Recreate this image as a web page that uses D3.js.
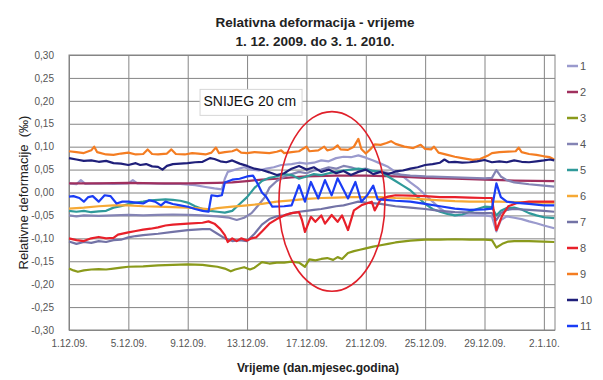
<!DOCTYPE html>
<html>
<head>
<meta charset="utf-8">
<script src="https://cdn.jsdelivr.net/npm/d3@7"></script>
<style>
  body { margin: 0; background: #fff; }
  svg { display: block; }
  text { font-family: "Liberation Sans", Arial, sans-serif; }
</style>
</head>
<body>
<svg id="chart" width="603" height="380"></svg>
<script>
// ---- data -------------------------------------------------------------
// Measurement period starts 1.12.2009; positions along time are given in days from that date.
const startDate = new Date(2009, 11, 1);
const lastDay = 32.75;

const tickDays = [0, 4, 8, 12, 16, 20, 24, 28, 32];
const tickLabels = ["1.12.09.", "5.12.09.", "9.12.09.", "13.12.09.", "17.12.09.",
                    "21.12.09.", "25.12.09.", "29.12.09.", "2.1.10."];
const yTicks = [-0.30, -0.25, -0.20, -0.15, -0.10, -0.05, 0.00, 0.05, 0.10, 0.15, 0.20, 0.25, 0.30];

const seriesNames = ["1", "2", "3", "4", "5", "6", "7", "8", "9", "10", "11"];
const seriesColors = ["#9a9acd", "#a0305e", "#8a9a1b", "#8484b4", "#2f9a9a", "#f6a935",
                      "#7373a6", "#e8202a", "#f47d22", "#1f1f7a", "#1a3cf5"];

// [day, relative deformation in ‰]
const s1 = [[0,0.02],[0.5,0.018],[0.8,0.027],[1.1,0.019],[2,0.02],[3,0.019],[4,0.02],[4.3,0.027],[4.6,0.02],
  [5.5,0.02],[6.5,0.019],[7.5,0.019],[8.5,0.016],[9.2,0.012],[9.8,0.009],[10.3,0.007],[10.5,0.03],[10.7,0.045],
  [11.2,0.05],[11.8,0.055],[12.3,0.05],[12.8,0.048],[13.3,0.052],[13.8,0.055],[14.3,0.06],[15,0.062],[15.5,0.065],
  [16,0.063],[16.5,0.065],[17,0.07],[17.5,0.068],[18,0.075],[18.5,0.078],[19,0.077],[19.5,0.081],[20,0.076],
  [20.5,0.07],[21,0.063],[21.5,0.056],[22,0.045],[22.5,0.035],[23,0.022],[23.5,0.01],[24,-0.005],[24.5,-0.02],
  [25,-0.035],[25.5,-0.045],[26,-0.05],[27,-0.05],[28,-0.05],[28.5,-0.052],[28.8,-0.085],[29.1,-0.06],
  [29.5,-0.052],[30,-0.055],[30.5,-0.058],[31,-0.063],[31.5,-0.067],[32,-0.072],[32.7,-0.078]];

const s2 = [[0,0.02],[2,0.02],[4,0.021],[6,0.02],[8,0.02],[10,0.021],[11,0.022],[12,0.025],[13,0.028],[14,0.03],
  [15,0.033],[16,0.035],[18,0.037],[20,0.037],[22,0.035],[24,0.032],[26,0.03],[28,0.028],[30,0.026],[32.7,0.025]];

const s3 = [[0,-0.166],[0.3,-0.17],[0.6,-0.173],[1,-0.17],[1.5,-0.168],[2,-0.167],[2.5,-0.168],[3,-0.166],
  [3.5,-0.164],[4,-0.162],[5,-0.161],[6,-0.159],[7,-0.158],[8,-0.157],[9,-0.158],[9.5,-0.16],[10,-0.162],
  [10.5,-0.166],[10.9,-0.172],[11.2,-0.168],[11.8,-0.163],[12.2,-0.168],[12.5,-0.164],[13,-0.152],[13.5,-0.155],
  [14,-0.153],[14.5,-0.153],[15,-0.151],[15.5,-0.153],[15.9,-0.162],[16.2,-0.146],[16.6,-0.148],[17,-0.145],
  [17.4,-0.143],[17.8,-0.147],[18.1,-0.141],[18.4,-0.145],[18.8,-0.132],[19.2,-0.128],[19.6,-0.125],[20,-0.122],
  [20.5,-0.118],[21,-0.115],[21.5,-0.112],[22,-0.109],[23,-0.105],[24,-0.103],[25,-0.103],[26,-0.102],
  [27,-0.103],[28,-0.103],[28.5,-0.104],[28.8,-0.12],[29.2,-0.112],[29.6,-0.107],[30,-0.106],[31,-0.106],
  [32,-0.107],[32.7,-0.108]];

const s4 = [[0,-0.05],[0.5,-0.052],[1,-0.05],[2,-0.051],[3,-0.05],[4,-0.049],[5,-0.05],[6,-0.049],[7,-0.048],
  [8,-0.049],[9,-0.05],[10,-0.052],[10.8,-0.055],[11.3,-0.06],[11.8,-0.055],[12.3,-0.045],[12.7,-0.03],
  [13.2,-0.01],[13.5,0.01],[14,0.025],[14.5,0.035],[15,0.04],[15.5,0.045],[16,0.042],[16.5,0.048],[17,0.05],
  [17.5,0.055],[18,0.052],[18.5,0.058],[19,0.055],[19.5,0.05],[20,0.052],[20.5,0.047],[21,0.045],[21.5,0.043],
  [22,0.04],[23,0.037],[24,0.035],[25,0.034],[26,0.033],[27,0.032],[28,0.031],[28.5,0.032],[28.8,0.049],
  [29.1,0.035],[29.5,0.027],[30,0.022],[31,0.018],[32,0.015],[32.7,0.013]];

const s5 = [[0,-0.04],[0.5,-0.042],[1,-0.04],[1.5,-0.043],[2,-0.041],[2.5,-0.04],[3,-0.033],[3.5,-0.03],
  [4,-0.025],[4.5,-0.022],[5,-0.02],[5.5,-0.017],[6,-0.016],[6.5,-0.015],[7,-0.016],[7.5,-0.018],[8,-0.022],
  [8.5,-0.03],[9,-0.036],[9.5,-0.04],[10,-0.042],[10.5,-0.044],[11,-0.04],[11.5,-0.025],[12,-0.01],[12.5,0.01],
  [13,0.025],[13.5,0.032],[14,0.035],[14.5,0.04],[15,0.038],[15.5,0.03],[16,0.035],[16.5,0.04],[17,0.038],
  [17.5,0.042],[18,0.045],[18.5,0.048],[19,0.05],[19.5,0.052],[20,0.05],[20.5,0.047],[21,0.045],[21.5,0.035],
  [22,0.025],[22.5,0.015],[23,0.005],[23.5,-0.01],[24,-0.025],[24.5,-0.036],[25,-0.042],[25.5,-0.047],
  [26,-0.05],[26.5,-0.048],[27,-0.042],[27.5,-0.036],[28,-0.031],[28.5,-0.032],[28.8,-0.05],[29.1,-0.04],
  [29.5,-0.034],[30,-0.033],[30.5,-0.037],[31,-0.045],[31.5,-0.05],[32,-0.054],[32.7,-0.056]];

const s6 = [[0,-0.035],[1,-0.033],[2,-0.03],[3,-0.028],[4,-0.028],[5,-0.03],[6,-0.031],[7,-0.032],[8,-0.033],
  [9,-0.035],[9.5,-0.037],[10,-0.034],[11,-0.031],[12,-0.028],[13,-0.025],[14,-0.02],[15,-0.017],[16,-0.014],
  [17,-0.012],[18,-0.011],[19,-0.01],[20,-0.01],[21,-0.01],[22,-0.012],[23,-0.013],[24,-0.015],[25,-0.017],
  [26,-0.019],[27,-0.02],[28,-0.02],[29,-0.02],[30,-0.021],[31,-0.022],[32,-0.022],[32.7,-0.022]];

const s7 = [[0,-0.107],[0.5,-0.112],[1,-0.108],[1.5,-0.11],[2,-0.106],[2.5,-0.108],[3,-0.104],[3.5,-0.103],
  [4,-0.098],[4.5,-0.095],[5,-0.093],[6,-0.09],[7,-0.086],[8,-0.082],[9,-0.08],[9.5,-0.08],[10,-0.09],
  [10.5,-0.1],[11,-0.106],[11.5,-0.104],[12,-0.106],[12.5,-0.09],[13,-0.07],[13.5,-0.058],[14,-0.052],
  [14.5,-0.05],[15,-0.045],[15.5,-0.042],[16,-0.04],[16.5,-0.038],[17,-0.036],[17.5,-0.033],[18,-0.03],
  [18.5,-0.028],[19,-0.024],[19.5,-0.02],[20,-0.022],[21,-0.025],[22,-0.03],[23,-0.033],[24,-0.036],[25,-0.04],
  [26,-0.043],[27,-0.044],[28,-0.045],[28.5,-0.045],[28.8,-0.06],[29.1,-0.045],[29.5,-0.038],[30,-0.036],
  [31,-0.038],[32,-0.04],[32.7,-0.042]];

const s8 = [[0,-0.1],[0.5,-0.104],[1,-0.106],[1.5,-0.1],[2,-0.097],[2.5,-0.1],[3,-0.099],[3.3,-0.092],[4,-0.087],
  [4.5,-0.084],[5,-0.081],[5.5,-0.079],[6,-0.076],[6.5,-0.072],[7,-0.07],[8,-0.068],[9,-0.066],[9.4,-0.063],
  [9.8,-0.068],[10.2,-0.08],[10.5,-0.093],[10.7,-0.108],[11,-0.1],[11.3,-0.106],[11.6,-0.1],[12,-0.105],
  [12.3,-0.1],[12.6,-0.098],[13,-0.085],[13.5,-0.068],[14,-0.058],[14.5,-0.05],[15,-0.045],[15.5,-0.043],
  [15.7,-0.06],[15.9,-0.086],[16.3,-0.053],[16.6,-0.064],[17,-0.05],[17.25,-0.068],[17.7,-0.049],[18.1,-0.064],
  [18.4,-0.05],[18.8,-0.082],[19.2,-0.039],[19.7,-0.028],[20.4,-0.02],[20.6,-0.039],[21,-0.015],[21.5,-0.009],
  [22,-0.006],[23,-0.007],[24,-0.008],[25,-0.01],[26,-0.01],[27,-0.011],[28,-0.012],[28.5,-0.012],
  [28.8,-0.082],[29.2,-0.05],[29.6,-0.03],[30.2,-0.023],[31,-0.02],[32,-0.02],[32.7,-0.02]];

const s9 = [[0,0.09],[0.5,0.088],[1,0.086],[1.5,0.092],[1.7,0.1],[1.9,0.088],[2.5,0.083],[3,0.082],[3.5,0.085],
  [4,0.087],[4.5,0.083],[5,0.084],[5.3,0.094],[5.6,0.084],[6,0.083],[6.6,0.085],[6.9,0.094],[7.2,0.084],
  [7.8,0.083],[8.3,0.086],[8.7,0.085],[9.2,0.083],[9.6,0.087],[9.9,0.098],[10.1,0.086],[10.5,0.088],[11,0.09],
  [11.3,0.094],[11.6,0.087],[12,0.086],[12.5,0.088],[13,0.087],[13.5,0.086],[14,0.089],[14.3,0.092],
  [14.5,0.086],[15,0.088],[15.5,0.09],[16,0.1],[16.2,0.09],[16.8,0.092],[17.2,0.1],[17.4,0.092],[17.8,0.095],
  [18.1,0.103],[18.3,0.094],[18.8,0.093],[19.2,0.1],[19.5,0.117],[19.7,0.095],[20,0.085],[20.3,0.094],
  [20.6,0.105],[21,0.104],[21.4,0.108],[21.7,0.112],[22,0.106],[22.6,0.1],[23.2,0.097],[23.7,0.104],[24,0.095],
  [24.4,0.094],[24.6,0.1],[24.9,0.087],[25.5,0.082],[26,0.078],[26.5,0.075],[27.2,0.071],[27.7,0.073],
  [28.2,0.08],[28.5,0.086],[29,0.088],[29.6,0.089],[30.1,0.09],[30.3,0.098],[30.5,0.088],[31,0.084],
  [31.5,0.082],[32,0.079],[32.4,0.077],[32.7,0.072]];

const s10 = [[0,0.075],[0.5,0.072],[1,0.069],[1.5,0.07],[2,0.067],[2.5,0.069],[3,0.064],[3.5,0.063],[4,0.06],
  [4.5,0.064],[4.8,0.06],[5.2,0.062],[5.6,0.057],[6,0.056],[6.3,0.05],[6.6,0.058],[7,0.062],[7.5,0.063],
  [8,0.064],[8.5,0.066],[9,0.067],[9.5,0.075],[9.8,0.073],[10.2,0.068],[10.6,0.066],[11,0.07],[11.5,0.063],
  [12,0.058],[12.5,0.052],[13,0.049],[13.5,0.044],[14,0.038],[14.5,0.042],[15,0.052],[15.5,0.058],[16,0.05],
  [16.5,0.055],[17,0.045],[17.5,0.05],[18,0.042],[18.5,0.047],[19,0.038],[19.5,0.045],[20,0.05],[20.5,0.04],
  [21,0.045],[21.5,0.04],[22,0.046],[22.5,0.048],[23,0.052],[23.5,0.055],[24,0.06],[24.5,0.062],[25,0.065],
  [25.3,0.072],[25.6,0.066],[26,0.067],[26.5,0.065],[27,0.066],[27.5,0.068],[28,0.071],[28.5,0.066],[29,0.068],
  [29.5,0.066],[30,0.07],[30.5,0.067],[31,0.066],[31.5,0.068],[32,0.07],[32.4,0.072],[32.7,0.07]];

const s11 = [[0,-0.009],[0.3,-0.008],[0.7,-0.012],[1,-0.02],[1.3,-0.01],[1.6,-0.008],[2,-0.02],[2.4,-0.006],
  [2.8,-0.008],[3.2,-0.024],[3.6,-0.02],[4,-0.02],[4.5,-0.022],[5,-0.024],[5.4,-0.017],[5.8,-0.02],[6.2,-0.028],
  [6.5,-0.02],[7,-0.025],[7.5,-0.028],[8,-0.031],[8.5,-0.036],[9,-0.04],[9.4,-0.042],[9.6,-0.006],[10,-0.008],
  [10.3,-0.006],[10.5,0.022],[11,0.028],[11.5,0.03],[12,0.035],[12.4,0.037],[12.7,0.02],[13,0.0],[13.3,-0.01],
  [13.7,-0.031],[14.5,-0.03],[15,-0.028],[15.5,0.016],[15.9,-0.02],[16.3,0.023],[16.8,-0.013],[17.25,0.027],
  [17.7,-0.006],[18.1,0.031],[18.8,-0.013],[19.3,0.023],[19.7,-0.02],[20.1,-0.006],[20.5,0.015],[20.8,-0.015],
  [21.3,-0.016],[22,-0.018],[23,-0.02],[24,-0.025],[25,-0.03],[26,-0.035],[27,-0.038],[28,-0.037],[28.5,-0.035],
  [28.8,0.02],[29.1,-0.01],[29.5,-0.02],[30,-0.022],[31,-0.025],[32,-0.028],[32.7,-0.028]];

const seriesData = [s1, s2, s3, s4, s5, s6, s7, s8, s9, s10, s11];

// annotation: snowfall note and the circled period (data coordinates)
const noteText = "SNIJEG 20 cm";
const noteAt = { day: 8.83, value: 0.225 };
const circled = { day: 17.72, value: -0.0196, rDays: 3.57, rValue: 0.196 };

// ---- layout ----------------------------------------------------------------
const plot = { left: 69, right: 555, top: 55, bottom: 330 };
const dayToDate = d => new Date(startDate.getTime() + d * 864e5);

const svg = d3.select("#chart");
svg.append("rect").attr("width", 603).attr("height", 380).attr("fill", "#fff");

const x = d3.scaleTime()
  .domain([dayToDate(0), dayToDate(lastDay)])
  .range([plot.left, plot.right]);
const y = d3.scaleLinear()
  .domain([-0.30, 0.30])
  .range([plot.bottom, plot.top]);

const gridColor = "#858585";

// horizontal grid + y labels
const yAxis = d3.axisLeft(y)
  .tickValues(yTicks)
  .tickSize(-(plot.right - plot.left))
  .tickPadding(15)
  .tickFormat(v => d3.format(".2f")(v).replace(".", ",").replace("\u2212", "-"));
const gy = svg.append("g").attr("transform", `translate(${plot.left},0)`).call(yAxis);
gy.select(".domain").remove();
gy.selectAll(".tick line").attr("stroke", gridColor).attr("stroke-width", 1);
gy.selectAll(".tick text").attr("font-size", 10).attr("fill", "#555")
  .attr("font-family", "Liberation Sans, Arial, sans-serif");

// vertical grid + x labels
const xAxis = d3.axisBottom(x)
  .tickValues(tickDays.map(dayToDate))
  .tickSize(-(plot.bottom - plot.top))
  .tickPadding(10)
  .tickFormat((d, i) => tickLabels[i]);
const gx = svg.append("g").attr("transform", `translate(0,${plot.bottom})`).call(xAxis);
gx.select(".domain").remove();
gx.selectAll(".tick line").attr("stroke", gridColor).attr("stroke-width", 1);
gx.selectAll(".tick text").attr("font-size", 10).attr("fill", "#555")
  .attr("font-family", "Liberation Sans, Arial, sans-serif");

// plot frame
svg.append("rect")
  .attr("x", plot.left).attr("y", plot.top)
  .attr("width", plot.right - plot.left).attr("height", plot.bottom - plot.top)
  .attr("fill", "none").attr("stroke", gridColor).attr("stroke-width", 1);

// series lines
const line = d3.line()
  .x(p => x(dayToDate(p[0])))
  .y(p => y(p[1]));
svg.append("g").attr("fill", "none")
  .selectAll("path")
  .data(seriesData)
  .join("path")
  .attr("d", line)
  .attr("stroke", (d, i) => seriesColors[i])
  .attr("stroke-width", 2.2)
  .attr("stroke-linejoin", "round");

// note box
const nx = x(dayToDate(noteAt.day)), ny = y(noteAt.value);
svg.append("rect").attr("x", nx).attr("y", ny).attr("width", 102).attr("height", 26)
  .attr("fill", "#fff").attr("stroke", "#d6d6d6").attr("stroke-width", 1);
svg.append("text").attr("x", nx + 3.5).attr("y", ny + 16.5)
  .attr("font-size", 14).attr("fill", "#111").text(noteText);

// circled period
const cx = x(dayToDate(circled.day)), cy = y(circled.value);
svg.append("ellipse")
  .attr("cx", cx).attr("cy", cy)
  .attr("rx", x(dayToDate(circled.day + circled.rDays)) - cx)
  .attr("ry", cy - y(circled.value + circled.rValue))
  .attr("fill", "none").attr("stroke", "#e0202a").attr("stroke-width", 1.6);

// titles
svg.append("text").attr("x", 315).attr("y", 27).attr("text-anchor", "middle")
  .attr("font-size", 13.5).attr("font-weight", "bold").attr("fill", "#222")
  .text("Relativna deformacija - vrijeme");
svg.append("text").attr("x", 315).attr("y", 46).attr("text-anchor", "middle")
  .attr("font-size", 13.5).attr("font-weight", "bold").attr("fill", "#222")
  .text("1. 12. 2009. do 3. 1. 2010.");
svg.append("text").attr("x", 318).attr("y", 372).attr("text-anchor", "middle")
  .attr("font-size", 12).attr("font-weight", "bold").attr("fill", "#222")
  .text("Vrijeme (dan.mjesec.godina)");
svg.append("text")
  .attr("transform", `translate(28,${(plot.top + plot.bottom) / 2}) rotate(-90)`)
  .attr("text-anchor", "middle").attr("font-size", 13).attr("fill", "#222")
  .style("white-space", "pre")
  .text("Relativne deformacije  (\u2030)");

// legend
const legend = svg.append("g").selectAll("g")
  .data(seriesNames)
  .join("g")
  .attr("transform", (d, i) => `translate(567,${66 + i * 26})`);
legend.append("line").attr("x1", 0).attr("x2", 11).attr("y1", 0).attr("y2", 0)
  .attr("stroke", (d, i) => seriesColors[i]).attr("stroke-width", 2.5);
legend.append("text").attr("x", 13).attr("y", 4).attr("font-size", 11).attr("fill", "#555")
  .text(d => d);
</script>
</body>
</html>
